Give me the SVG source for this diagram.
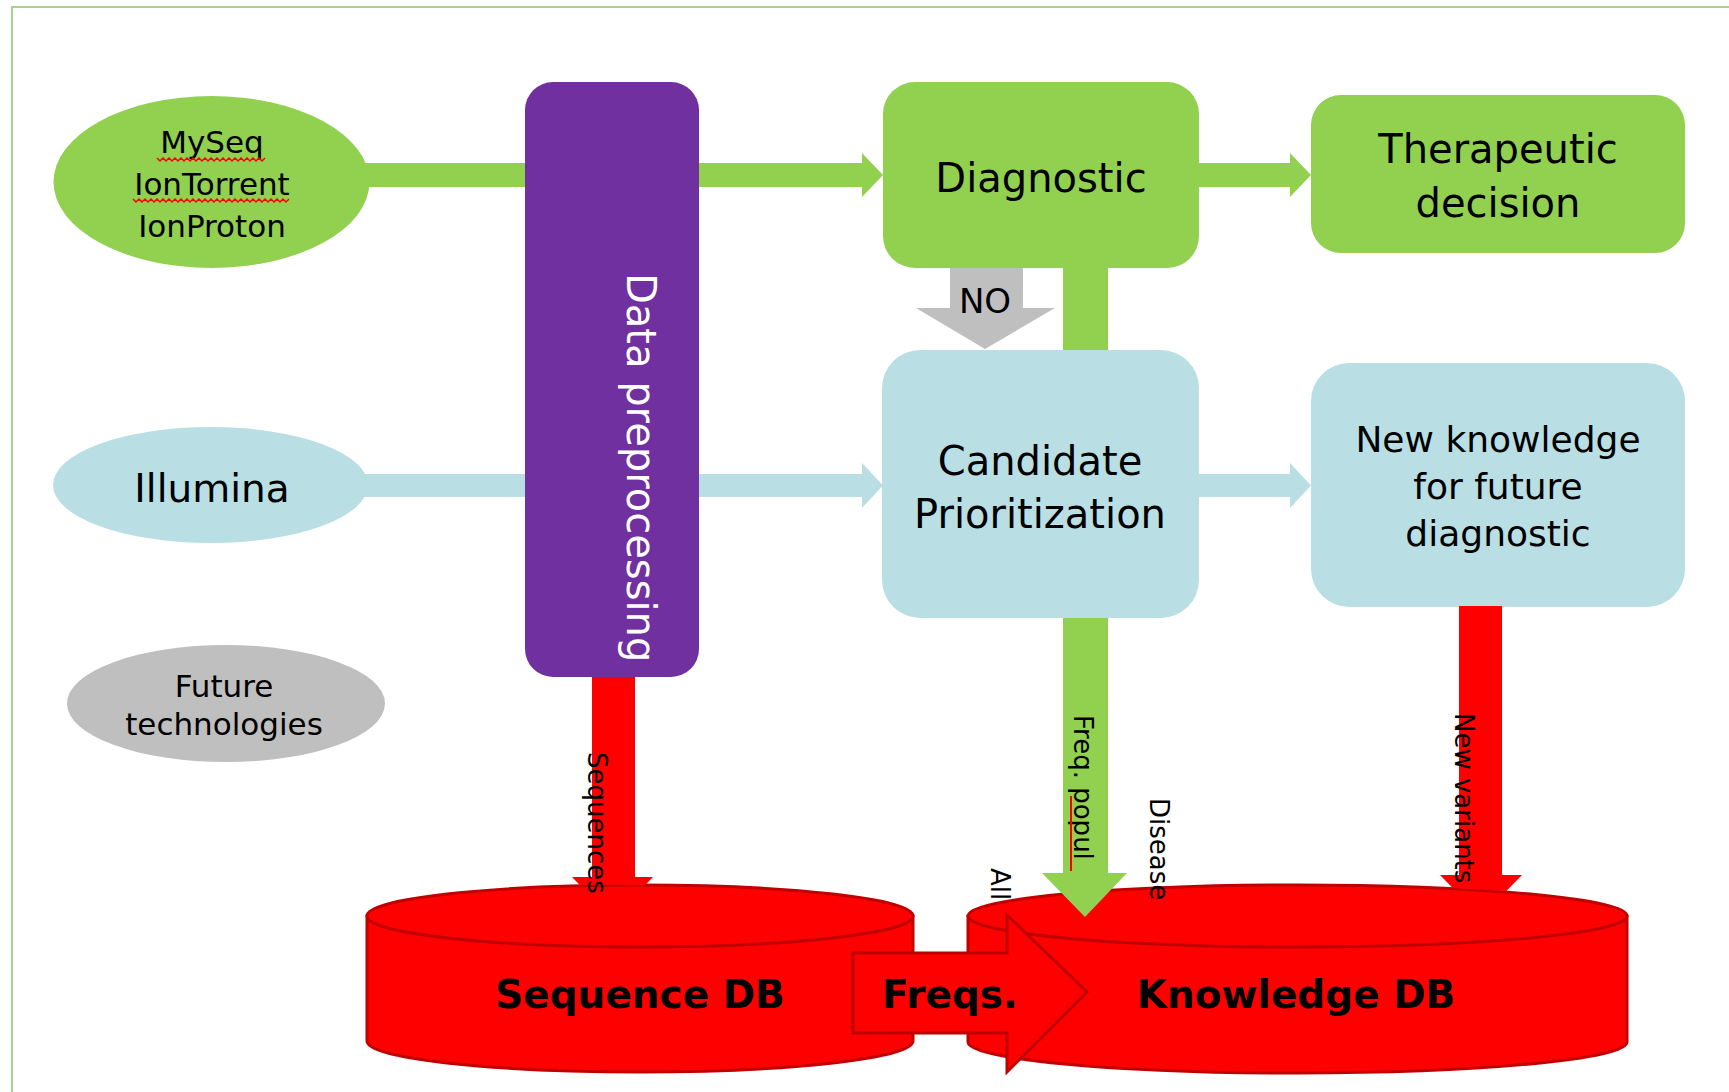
<svg xmlns="http://www.w3.org/2000/svg" width="1729" height="1092" viewBox="0 0 1729 1092">
<defs>
<style>
text{font-family:"DejaVu Sans","Liberation Sans",sans-serif;fill:#000}
.green{fill:#92D050}
.blue{fill:#B9DFE4}
.purple{fill:#7030A0}
.gray{fill:#BFBFBF}
.red{fill:#FF0000}
.db{fill:#FF0000;stroke:#C00000;stroke-width:3}
.lbl{font-size:26px}
.mid{text-anchor:middle}
.big{font-size:40px;text-anchor:middle}
.bold{font-size:39px;font-weight:bold;text-anchor:middle}
.wave{fill:none;stroke:#FF0000;stroke-width:1.5}
</style>
</defs>
<rect width="1729" height="1092" fill="#ffffff"/>
<rect x="12" y="7" width="1740" height="1100" fill="none" stroke="#A9D18E" stroke-width="2"/>

<g id="myseq">
<ellipse cx="211.5" cy="182" rx="158" ry="86" class="green"/>
<text x="212" y="153" font-size="31" class="mid">MySeq</text>
<text x="212" y="195" font-size="31" class="mid">IonTorrent</text>
<text x="212" y="237" font-size="31" class="mid">IonProton</text>
<path class="wave" d="M157,158 l3,3 l3,-3 l3,3 l3,-3 l3,3 l3,-3 l3,3 l3,-3 l3,3 l3,-3 l3,3 l3,-3 l3,3 l3,-3 l3,3 l3,-3 l3,3 l3,-3 l3,3 l3,-3 l3,3 l3,-3 l3,3 l3,-3 l3,3 l3,-3 l3,3 l3,-3 l3,3 l3,-3 l3,3 l3,-3 l3,3 l3,-3 l3,3 l3,-3"/>
<path class="wave" d="M133,199 l3,3 l3,-3 l3,3 l3,-3 l3,3 l3,-3 l3,3 l3,-3 l3,3 l3,-3 l3,3 l3,-3 l3,3 l3,-3 l3,3 l3,-3 l3,3 l3,-3 l3,3 l3,-3 l3,3 l3,-3 l3,3 l3,-3 l3,3 l3,-3 l3,3 l3,-3 l3,3 l3,-3 l3,3 l3,-3 l3,3 l3,-3 l3,3 l3,-3 l3,3 l3,-3 l3,3 l3,-3 l3,3 l3,-3 l3,3 l3,-3 l3,3 l3,-3 l3,3 l3,-3 l3,3 l3,-3 l3,3 l3,-3"/>
</g>

<g id="illumina">
<ellipse cx="210.5" cy="485" rx="157.5" ry="58" class="blue"/>
<text x="212" y="502" font-size="39" class="mid">Illumina</text>
</g>

<g id="future">
<ellipse cx="226" cy="703.5" rx="159" ry="58.5" class="gray"/>
<text x="224" y="697" font-size="31" class="mid">Future</text>
<text x="224" y="735" font-size="31" class="mid">technologies</text>
</g>

<g id="preprocessing">
<rect x="525" y="82" width="174" height="595" rx="28" class="purple"/>
<text transform="translate(627,273) rotate(90)" font-size="40" style="fill:#ffffff">Data preprocessing</text>
</g>

<g id="diagnostic">
<rect x="883" y="82" width="316" height="186" rx="32" class="green"/>
<text x="1041" y="192" class="big">Diagnostic</text>
</g>

<g id="therapeutic">
<rect x="1311" y="95" width="374" height="158" rx="30" class="green"/>
<text x="1498" y="163" class="big">Therapeutic</text>
<text x="1498" y="217" class="big">decision</text>
</g>

<g id="candidate">
<rect x="882" y="350" width="317" height="268" rx="38" class="blue"/>
<text x="1040" y="475" class="big">Candidate</text>
<text x="1040" y="528" class="big">Prioritization</text>
</g>

<g id="newknowledge">
<rect x="1311" y="363" width="374" height="244" rx="38" class="blue"/>
<text x="1498" y="452" font-size="36" class="mid">New knowledge</text>
<text x="1498" y="499" font-size="36" class="mid">for future</text>
<text x="1498" y="546" font-size="36" class="mid">diagnostic</text>
</g>

<g id="sequencedb">
<path class="db" d="M367,916 L367,1041 A273,31 0 0 0 913,1041 L913,916 Z"/>
<ellipse class="db" cx="640" cy="916" rx="273" ry="31"/>
<text x="640" y="1008" class="bold">Sequence DB</text>
</g>

<g id="knowledgedb">
<path class="db" d="M968,916 L968,1042 A329.5,31 0 0 0 1627,1042 L1627,916 Z"/>
<ellipse class="db" cx="1297.5" cy="916" rx="329.5" ry="31"/>
<text x="1296" y="1008" class="bold">Knowledge DB</text>
</g>

<g id="connectors">
<rect x="355" y="163" width="170" height="24" class="green"/>
<rect x="355" y="474" width="170" height="23" class="blue"/>
<polygon class="green" points="699,163 862,163 862,153 883,175 862,197 862,187 699,187"/>
<polygon class="blue" points="699,474 862,474 862,463 883,485.5 862,508 862,497 699,497"/>
<polygon class="green" points="1199,163 1290,163 1290,153 1311,175 1290,197 1290,187 1199,187"/>
<polygon class="blue" points="1199,474 1290,474 1290,463 1311,485.5 1290,508 1290,497 1199,497"/>
<polygon class="gray" points="950,268 1023,268 1023,308 1055,308 985,349 916,308 950,308"/>
<text x="985" y="313" font-size="34" class="mid">NO</text>
<rect x="1063" y="268" width="45" height="82" class="green"/>
<polygon class="green" points="1063,618 1108,618 1108,873 1127,873 1085,917 1042,873 1063,873"/>
<polygon class="red" points="592,677 635,677 635,877 653,877 645.3,885 579.7,885 572,877 592,877"/>
<polygon class="red" points="1459,606 1502,606 1502,875 1522,875 1506.4,891 1452.7,888 1440,875 1459,875"/>
<polygon class="db" stroke-width="2.5" points="853,953 1007,953 1007,915 1087,992 1007,1072 1007,1033 853,1033"/>
<text x="950" y="1008" class="bold" font-size="38">Freqs.</text>
<text class="lbl" transform="translate(588,752) rotate(90)">Sequences</text>
<text class="lbl" transform="translate(1074,715) rotate(90)">Freq. popul</text>
<line x1="1071" y1="796" x2="1071" y2="871" stroke="#FF0000" stroke-width="2"/>
<text class="lbl" transform="translate(1150,798) rotate(90)">Disease</text>
<text class="lbl" transform="translate(991,868) rotate(90)">All</text>
<text class="lbl" transform="translate(1455,713) rotate(90)">New variants</text>
</g>
</svg>
